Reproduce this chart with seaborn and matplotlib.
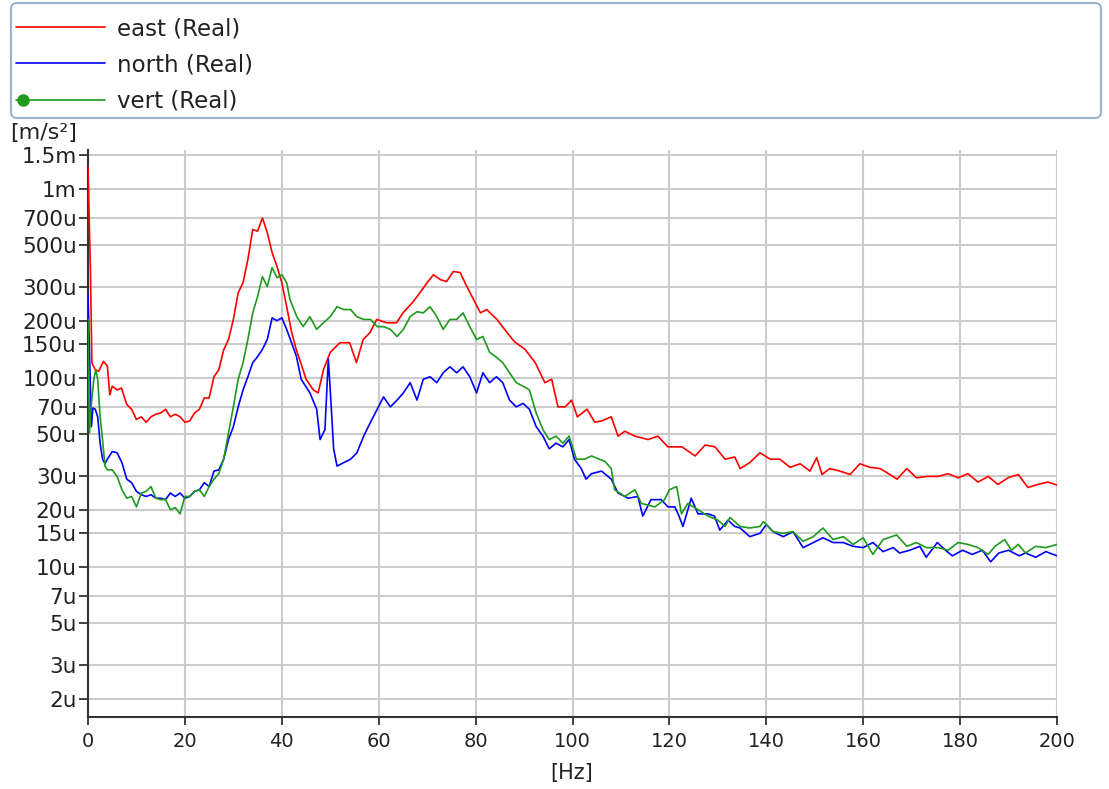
import numpy as np
import pandas as pd
import matplotlib
matplotlib.use("Agg")
import matplotlib.pyplot as plt
import seaborn as sns
from matplotlib.lines import Line2D
from matplotlib.legend_handler import HandlerLine2D
from matplotlib.patches import FancyBboxPatch
from matplotlib.transforms import IdentityTransform

# ---------------- data (values in micro m/s^2) ----------------
east_hz = [0, 0.5, 0.8, 1.5, 2.2, 3.2, 4, 4.5, 5, 6,
           6.9, 8, 9, 10, 11, 12, 13, 14, 15, 16,
           17, 18, 19, 20, 21, 22, 23, 24, 25, 26,
           27, 28, 29, 30, 31, 32, 33, 34, 35, 36,
           37, 38, 39, 40, 41, 42, 43, 44, 45, 46.5,
           47.5, 48.6, 50, 52, 54, 55.4, 56.8, 58.2, 59.6, 61.6,
           63.7, 65, 67, 68.5, 70, 71.3, 72.7, 74, 75.4, 76.8,
           78.2, 79.6, 81, 82.3, 84.4, 86.5, 88, 90.2, 92.3, 94.3,
           95.7, 97, 98.5, 99.8, 101, 103, 104.6, 106, 108, 109.4,
           110.8, 112.9, 115.6, 117.6, 119.7, 122.6, 125.3, 127.4, 129.4, 131.5,
           133.5, 134.6, 136.6, 138.7, 140.8, 142.8, 144.9, 147, 149, 150.4,
           151.5, 153.1, 155.2, 157.3, 159.3, 161.4, 163.5, 165.5, 167, 169,
           171, 173.2, 175.5, 177.5, 179.6, 181.6, 183.7, 185.8, 187.8, 189.9,
           192, 194, 196, 198.1, 200]
east_val = [1300, 370, 120, 110, 108, 122, 115, 81, 90, 86,
            88, 72, 68, 60, 62, 58, 62, 64, 65, 68,
            62, 64, 62, 58, 59, 65, 68, 78, 78, 101,
            110, 140, 159, 203, 281, 318, 421, 607, 595, 700,
            585, 458, 388, 318, 238, 175, 140, 118, 98, 86,
            83, 110, 136, 153, 153, 120, 159, 173, 203, 195,
            195, 220, 250, 281, 318, 350, 330, 322, 364, 360,
            303, 258, 220, 229, 203, 173, 155, 141, 120, 94,
            98, 70, 70, 76, 62, 68, 58, 59, 62, 49,
            52, 49, 47, 49, 43, 43, 38.5, 44, 43, 37,
            38, 33, 35.5, 40, 37, 37, 33.5, 35, 32, 37.7,
            30.7, 33, 32, 30.7, 35, 33.5, 33, 30.7, 29, 33,
            29.5, 30, 30, 31, 29.5, 31, 28, 30, 27.2, 29.5,
            30.7, 26.2, 27.2, 28, 27]

north_hz = [0, 0.4, 0.7, 1, 1.5, 2, 2.5, 3, 3.5, 4,
            5, 6, 7, 8, 9, 10, 11, 12, 13, 14,
            15, 16, 17, 18, 19, 20, 21, 22, 23, 24,
            25, 26, 27, 28, 29, 30, 31, 32, 33, 34,
            35, 36, 37, 38, 39, 40, 41, 42, 43, 44,
            45.8, 47.2, 47.9, 48.9, 49.6, 50, 50.7, 51.4, 52.8, 54.2,
            55.5, 56.9, 58.3, 59.7, 61, 62.4, 63.8, 65.1, 66.5, 67.9,
            69.2, 70.6, 72, 73.3, 74.7, 76.1, 77.4, 78.8, 80.2, 81.5,
            82.9, 84.3, 85.6, 87, 88.4, 89.8, 91.1, 92.5, 93.9, 95.2,
            96.6, 98, 99.3, 100.4, 101.8, 102.8, 103.9, 106, 108, 109.4,
            111.5, 113.5, 114.5, 116.2, 118.3, 119.7, 121.1, 121.8, 122.8, 124.5,
            125.9, 128, 129.3, 130.4, 132.1, 133.5, 134.6, 136.6, 138.7, 140,
            141.4, 143.5, 145.5, 147.6, 149.7, 151.7, 153.8, 155.9, 157.9, 160,
            162, 164.1, 166.2, 167.5, 169.6, 171.7, 173, 175.3, 177, 178.4,
            180.5, 182.5, 184.6, 186.3, 188, 190, 192.2, 193.5, 195.6, 197.7,
            200]
north_val = [275, 110, 55, 69, 68, 62, 45, 37, 35, 37,
             40.6, 40, 35.5, 29, 27.8, 25, 24, 23.5, 24, 23,
             23, 22.6, 24.5, 23.5, 24.5, 23, 23.5, 25, 25.5, 27.8,
             26.5, 32, 32.5, 37, 47, 55, 70, 86, 101, 120,
             129, 141, 159, 207, 200, 207, 180, 153, 130, 98,
             83, 68, 47, 53, 125, 86, 42, 34, 35.5, 37,
             40, 49, 58, 68, 79, 70, 76, 83, 94, 76,
             98, 101, 94, 106, 114, 106, 114, 101, 83, 106,
             94, 101, 94, 76, 70, 73, 68, 55, 49, 42,
             45, 43, 47, 37, 33, 29, 31, 32, 29, 24.5,
             23, 23.5, 18.5, 22.6, 22.6, 20.7, 20.7, 19, 16.3, 23,
             19, 19, 18.5, 15.6, 17.6, 16.3, 16, 14.4, 15, 16.7,
             15.3, 14.4, 15.3, 12.6, 13.4, 14.2, 13.4, 13.4, 12.8, 12.6,
             13.4, 12, 12.6, 11.8, 12.2, 12.8, 11.2, 13.4, 12.2, 11.4,
             12.2, 11.6, 12.2, 10.6, 11.8, 12.2, 11.4, 11.8, 11.2, 12,
             11.4]

vert_hz = [0, 0.3, 0.7, 1.2, 1.6, 2, 2.5, 3, 3.5, 4,
           5, 6, 7, 8, 9, 10, 11, 12, 13, 14,
           15, 16, 17, 18, 19, 20, 21, 22, 23, 24,
           25, 26, 27, 28, 29, 30, 31, 32, 33, 34,
           35, 36, 37, 38, 39, 40, 41, 41.7, 43.1, 44.4,
           45.8, 47.2, 48.6, 50, 51.4, 52.8, 54.2, 55.5, 56.9, 58.3,
           59.7, 61, 62.4, 63.8, 65.1, 66.5, 67.9, 69.2, 70.6, 72,
           73.3, 74.7, 76.1, 77.4, 78.8, 80.2, 81.5, 82.9, 84.3, 85.6,
           87, 88.4, 89.8, 91.1, 92.5, 93.9, 95.2, 96.6, 98, 99.3,
           100.8, 102.5, 103.9, 106.7, 108, 108.7, 110.8, 112.9, 114.2, 117,
           119, 120, 121.5, 122.5, 123.8, 125.9, 128, 130, 131.5, 132.5,
           134.6, 136.6, 138.7, 139.4, 141.4, 143.5, 145.5, 147.6, 149.7, 151.7,
           153.8, 155.9, 157.9, 160, 162, 164.1, 166.9, 169, 171, 173,
           175.5, 177.5, 179.6, 181.6, 183.7, 185.8, 187.2, 189.2, 190.6, 192,
           193.5, 195.6, 197.7, 200]
vert_val = [203, 51, 73, 98, 110, 98, 62, 47, 34, 32.5,
            32.5, 30, 25.5, 23, 23.5, 20.7, 24.5, 25, 26.5, 23,
            22.6, 22.6, 20, 20.5, 19, 23.5, 23.5, 25, 25.5, 23.5,
            26.5, 29, 31, 37, 51, 70, 98, 120, 159, 220,
            268, 342, 303, 382, 338, 350, 318, 258, 210, 186,
            210, 180, 195, 210, 237, 229, 229, 210, 203, 203,
            186, 186, 180, 165, 180, 210, 223, 220, 237, 210,
            180, 203, 203, 220, 186, 159, 165, 136, 128, 120,
            106, 94, 90, 86, 65, 53, 47, 49, 45, 49,
            37, 37, 38.5, 36, 33, 25.5, 23.5, 25.5, 21.6, 20.7,
            22.6, 25.5, 26.5, 19, 21.6, 20, 18.5, 17.6, 16.3, 18.2,
            16.3, 16, 16.3, 17.3, 15.3, 15, 15.3, 13.6, 14.4, 16,
            13.9, 14.4, 13.1, 14.2, 11.6, 13.9, 14.7, 12.8, 13.4, 12.6,
            12.6, 12.2, 13.4, 13.1, 12.6, 11.6, 12.8, 13.9, 12.2, 13.1,
            11.8, 12.8, 12.6, 13.1]

series_names = ["east (Real)", "north (Real)", "vert (Real)"]
series_colors = ["#ff0000", "#0000ff", "#1e9a1e"]

y_tick_vals = [1500, 1000, 700, 500, 300, 200, 150, 100, 70, 50, 30, 20, 15, 10, 7, 5, 3, 2]
y_tick_labels = ["1.5m", "1m", "700u", "500u", "300u", "200u", "150u", "100u", "70u",
                 "50u", "30u", "20u", "15u", "10u", "7u", "5u", "3u", "2u"]
x_tick_vals = [0, 20, 40, 60, 80, 100, 120, 140, 160, 180, 200]

# ---------------- figure ----------------
sns.set_style("white")
plt.rcParams["font.family"] = ["DejaVu Sans"]
W, H = 1109, 789
fig = plt.figure(figsize=(W / 100, H / 100), dpi=100)
ax = fig.add_axes([88 / W, 1 - 717 / H, (1057 - 88) / W, (717 - 150) / H])

for hz, val, col in zip([east_hz, north_hz, vert_hz],
                        [east_val, north_val, vert_val], series_colors):
    assert len(hz) == len(val)
    df = pd.DataFrame({"hz": hz, "val": val})
    sns.lineplot(data=df, x="hz", y="val", ax=ax, color=col, linewidth=1.2,
                 estimator=None, sort=False, legend=False, zorder=3)

ax.set_yscale("log")
ax.set_xlim(0, 200)
ax.set_ylim(1.6, 1600)
ax.set_yticks(y_tick_vals)
ax.set_yticklabels(y_tick_labels)
ax.yaxis.set_minor_locator(matplotlib.ticker.NullLocator())
ax.set_xticks(x_tick_vals)
ax.set_xticklabels([str(v) for v in x_tick_vals])
ax.set_xlabel("")
ax.set_ylabel("")

ax.grid(True, color="#cccccc", linewidth=1.5)
ax.set_axisbelow(True)
for s in ["top", "right"]:
    ax.spines[s].set_visible(False)
for s in ["left", "bottom"]:
    ax.spines[s].set_color("#333333")
    ax.spines[s].set_linewidth(1.5)
    ax.spines[s].set_zorder(2.5)

ax.tick_params(axis="y", which="major", left=True, length=6.5, width=1.3,
               color="#333333", pad=1.5, labelsize=15.5, labelcolor="#222222")
ax.tick_params(axis="x", which="major", bottom=True, length=6, width=1.3,
               color="#333333", pad=5, labelsize=14, labelcolor="#222222")

fig.text(10 / W, 1 - 133 / H, "[m/s²]", ha="left", va="center", fontsize=16,
         color="#222222")
fig.text(572 / W, 1 - 773 / H, "[Hz]", ha="center", va="center", fontsize=15,
         color="#222222")


class LeftMarkerHandler(HandlerLine2D):
    """Legend line with a single marker placed near its left end."""

    def create_artists(self, legend, orig_handle, xdescent, ydescent, width,
                       height, fontsize, trans):
        arts = super().create_artists(legend, orig_handle, xdescent, ydescent,
                                      width, height, fontsize, trans)
        line = arts[0]
        line.set_marker("None")
        xd = line.get_xdata()
        yd = line.get_ydata()
        mk = Line2D([xd[0] + 5], [yd[0]], linestyle="None", marker="o",
                    markersize=orig_handle.get_markersize(),
                    markerfacecolor=orig_handle.get_markerfacecolor(),
                    markeredgecolor=orig_handle.get_markeredgecolor())
        mk.set_transform(trans)
        return [line, mk]


# legend frame (rounded box)
box = FancyBboxPatch((11, H - 118), 1090, 115,
                     boxstyle="round,pad=0,rounding_size=6",
                     transform=IdentityTransform(), facecolor="white",
                     edgecolor="#9fb3cf", linewidth=1.5, zorder=0)
fig.add_artist(box)

handles = [
    Line2D([], [], color=series_colors[0], linewidth=1.2),
    Line2D([], [], color=series_colors[1], linewidth=1.2),
    Line2D([], [], color=series_colors[2], linewidth=1.2, marker="o",
           markersize=8, markerfacecolor=series_colors[2],
           markeredgecolor=series_colors[2]),
]
leg = fig.legend(handles, series_names, loc="upper left",
                 bbox_to_anchor=(16 / W, 1 - 17 / H),
                 borderaxespad=0, fontsize=16.5, frameon=False,
                 handlelength=3.9, handletextpad=0.5,
                 labelspacing=0.585, borderpad=0, numpoints=1,
                 handler_map={handles[2]: LeftMarkerHandler(numpoints=1)})
leg.set_zorder(5)
for t in leg.get_texts():
    t.set_color("#222222")

fig.savefig("out.png", dpi=100)
